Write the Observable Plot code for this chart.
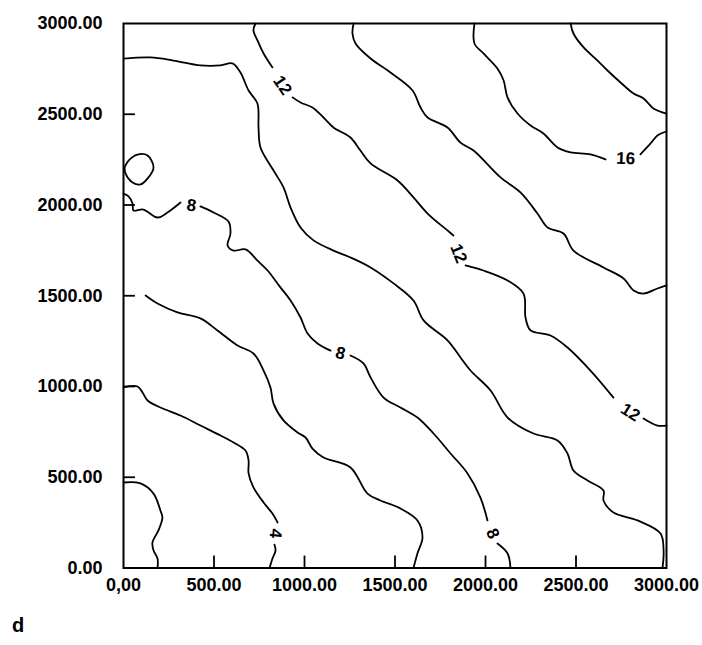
<!DOCTYPE html>
<html>
<head>
<meta charset="utf-8">
<script src="https://cdn.jsdelivr.net/npm/d3@7"></script>
<script src="https://cdn.jsdelivr.net/npm/@observablehq/plot@0.6"></script>
<style>
  html, body { margin: 0; padding: 0; background: #fff; }
  #chart svg { display: block; }
  .panel { font-family: "Liberation Sans", Arial, sans-serif; font-weight: bold; font-size: 20px; line-height: 20px; margin: 9px 0 0 12px; color: #000; }
</style>
</head>
<body>
<div id="chart"></div>
<div class="panel">d</div>
<script>
// axis ticks
const xTicks = [0, 500, 1000, 1500, 2000, 2500, 3000];
const xTickLabels = ["0,00", "500.00", "1000.00", "1500.00", "2000.00", "2500.00", "3000.00"];
const yTicks = [0, 500, 1000, 1500, 2000, 2500, 3000];
const yTickLabels = ["0.00", "500.00", "1000.00", "1500.00", "2000.00", "2500.00", "3000.00"];
const innerTicks = [500, 1000, 1500, 2000, 2500];

// contour lines: each level is a list of segments (gaps where labels sit), points are [x, y]
const level2 = [[[0,471],[94,466],[166,410],[204,317],[215,278],[193,207],[160,141],[166,96],[188,52],[188,0]]];
const level4 = [
  [[0,995],[77,1000],[105,967],[133,923],[204,884],[315,840],[425,785],[536,730],[608,692],[674,647],[691,592],[691,521],[718,444],[774,361],[823,300],[851,251]],
  [[834,129],[840,96],[823,52],[807,0]]
];
const level6 = [[[122,1501],[188,1457],[298,1408],[425,1375],[519,1309],[630,1226],[718,1182],[774,1088],[812,995],[829,906],[884,813],[961,747],[1006,719],[1044,658],[1105,609],[1254,554],[1348,410],[1420,372],[1530,328],[1624,262],[1652,168],[1624,80],[1602,0]]];
const level8 = [
  [[0,2063],[28,2047],[50,2008],[55,1970],[110,1975],[188,1931],[243,1959],[315,2014]],
  [[425,1992],[497,1959],[580,1909],[591,1843],[575,1777],[608,1749],[674,1755],[740,1694],[796,1639],[867,1546],[923,1474],[978,1380],[1017,1292],[1072,1237],[1144,1198]],
  [[1254,1171],[1326,1127],[1365,1050],[1437,939],[1530,884],[1624,829],[1713,741],[1807,631],[1901,521],[1972,388],[2011,262]],
  [[2066,135],[2122,80],[2138,0]]
];
const level10 = [
  [[0,2807],[149,2813],[276,2796],[425,2769],[536,2769],[602,2780],[646,2730],[691,2631],[740,2559],[746,2427],[757,2317],[829,2190],[884,2097],[923,1986],[978,1876],[1050,1805],[1160,1749],[1254,1711],[1365,1656],[1492,1568],[1602,1474],[1658,1364],[1790,1254],[1862,1160],[1917,1088],[2028,978],[2122,829],[2265,741],[2398,703],[2453,631],[2486,537],[2564,482],[2652,427],[2652,372],[2707,306],[2840,262],[2967,190],[2984,96],[2978,0]],
  [[6,2207],[28,2245],[77,2278],[133,2273],[166,2207],[138,2152],[94,2113],[50,2124],[11,2174],[6,2207]]
];
const level12 = [
  [[729,3000],[718,2962],[740,2907],[774,2835],[823,2758]],
  [[934,2593],[978,2565],[1044,2537],[1105,2482],[1160,2427],[1254,2372],[1309,2300],[1365,2229],[1514,2135],[1602,2042],[1680,1953],[1790,1860],[1823,1832]],
  [[1890,1667],[1989,1639],[2122,1584],[2210,1512],[2221,1380],[2249,1309],[2359,1281],[2453,1215],[2580,1088],[2707,939]],
  [[2873,824],[2950,785],[3000,785]]
];
const level14 = [[[1271,3000],[1265,2945],[1282,2890],[1365,2807],[1475,2730],[1597,2631],[1641,2537],[1680,2482],[1790,2427],[1862,2344],[1934,2300],[2083,2152],[2193,2069],[2287,1953],[2343,1876],[2431,1843],[2486,1749],[2652,1656],[2763,1595],[2818,1529],[2873,1512],[2950,1540],[3000,1557]]];
const level16 = [
  [[1939,3000],[1939,2890],[1989,2835],[2066,2752],[2100,2686],[2122,2592],[2177,2504],[2249,2438],[2320,2394],[2398,2317],[2470,2290],[2580,2279],[2663,2251]],
  [[2856,2279],[2912,2339],[2950,2383],[3000,2405]]
];
const level18 = [[[2470,3000],[2486,2945],[2542,2868],[2619,2796],[2674,2741],[2746,2675],[2818,2614],[2873,2587],[2928,2532],[3000,2504]]];

// contour labels: value and position
const labelText = ["12", "8", "12", "16", "8", "12", "4", "8"];
const labelX = [878, 376, 1851, 2774, 1199, 2801, 840, 2039];
const labelY = [2659, 1997, 1733, 2256, 1182, 857, 190, 190];
const labelAngle = [56, 8, 68, 2, 14, 32, 95, 66];

const levels = [[2, level2], [4, level4], [6, level6], [8, level8], [10, level10], [12, level12], [14, level14], [16, level16], [18, level18]];
const rows = [];
levels.forEach(([lv, segs]) => segs.forEach((seg, si) => seg.forEach(([x, y]) => rows.push({id: lv + "-" + si, x, y}))));
const labels = labelText.map((t, i) => ({t, x: labelX[i], y: labelY[i], a: labelAngle[i]}));

const txt = {fontSize: 18, fontWeight: "bold", fill: "black"};
const chart = Plot.plot({
  width: 702,
  height: 606,
  marginLeft: 123,
  marginRight: 36,
  marginTop: 23,
  marginBottom: 38.5,
  x: {domain: [0, 3000]},
  y: {domain: [0, 3000]},
  style: {fontFamily: "'Liberation Sans', Arial, sans-serif", background: "white", color: "black"},
  marks: [
    Plot.axisX(xTicks, {tickSize: 0, tickPadding: 10, tickFormat: (d) => xTickLabels[xTicks.indexOf(d)], label: null, ...txt}),
    Plot.axisY(yTicks, {tickSize: 0, tickPadding: 21, tickFormat: (d) => yTickLabels[yTicks.indexOf(d)], label: null, ...txt}),
    Plot.ruleX(innerTicks, {x: d => d, y1: 0, y2: 66, stroke: "black", strokeWidth: 1.8}),
    Plot.ruleY(innerTicks, {y: d => d, x1: 0, x2: 66, stroke: "black", strokeWidth: 1.8}),
    Plot.line(rows, {x: "x", y: "y", z: "id", stroke: "black", strokeWidth: 1.8, curve: "catmull-rom"}),
    Plot.text(labels, {x: "x", y: "y", text: "t", rotate: "a", fontSize: 17, fontWeight: "bold", fill: "black"}),
    Plot.frame({stroke: "black", strokeWidth: 2})
  ]
});
document.getElementById("chart").appendChild(chart);
</script>
</body>
</html>
